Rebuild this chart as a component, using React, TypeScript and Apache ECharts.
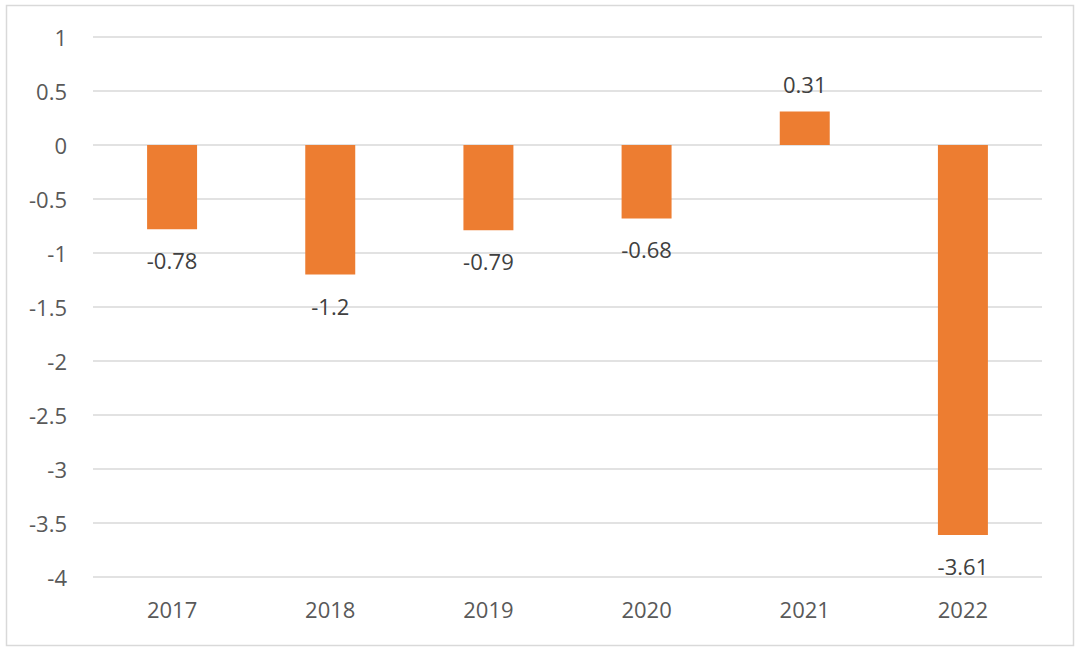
import React, { useEffect, useRef } from "react";
import * as echarts from "echarts";

const categories = ["2017", "2018", "2019", "2020", "2021", "2022"];
const values = [-0.78, -1.2, -0.79, -0.68, 0.31, -3.61];
const yTicks = { min: -4, max: 1, interval: 0.5 };

export default function App() {
  const ref = useRef<HTMLDivElement>(null);
  useEffect(() => {
    if (!ref.current) return;
    const chart = echarts.init(ref.current, undefined, { renderer: "svg" });
    const font = "'Open Sans', 'Liberation Sans', sans-serif";
    chart.setOption({
      animation: false,
      backgroundColor: "#ffffff",
      textStyle: { fontFamily: font },
      grid: { left: 93, right: 38, top: 37, bottom: 77 },
      graphic: [
        {
          type: "rect",
          shape: { x: 6.5, y: 5.5, width: 1067, height: 640 },
          style: { fill: "none", stroke: "#D9D9D9", lineWidth: 1.5 },
          silent: true,
        },
      ],
      xAxis: {
        type: "category",
        data: categories,
        axisLine: { show: false },
        axisTick: { show: false },
        axisLabel: { color: "#595959", fontSize: 22, margin: 21, fontFamily: font },
      },
      yAxis: {
        type: "value",
        min: yTicks.min,
        max: yTicks.max,
        interval: yTicks.interval,
        axisLine: { show: false },
        axisTick: { show: false },
        splitLine: { lineStyle: { color: "#D9D9D9", width: 1.5 } },
        axisLabel: { color: "#595959", fontSize: 22, margin: 26, fontFamily: font },
      },
      series: [
        {
          type: "bar",
          barWidth: "31.6%",
          itemStyle: { color: "#ED7D31" },
          data: values.map((v) => ({
            value: v,
            label: {
              show: true,
              position: v >= 0 ? "top" : "bottom",
              distance: v >= 0 ? 17 : 20,
              color: "#404040",
              fontSize: 22,
              fontFamily: font,
            },
          })),
        },
      ],
    });
    return () => chart.dispose();
  }, []);
  return (
    <div
      ref={ref}
      style={{ position: "fixed", left: 0, top: 0, width: 1080, height: 654 }}
    />
  );
}
